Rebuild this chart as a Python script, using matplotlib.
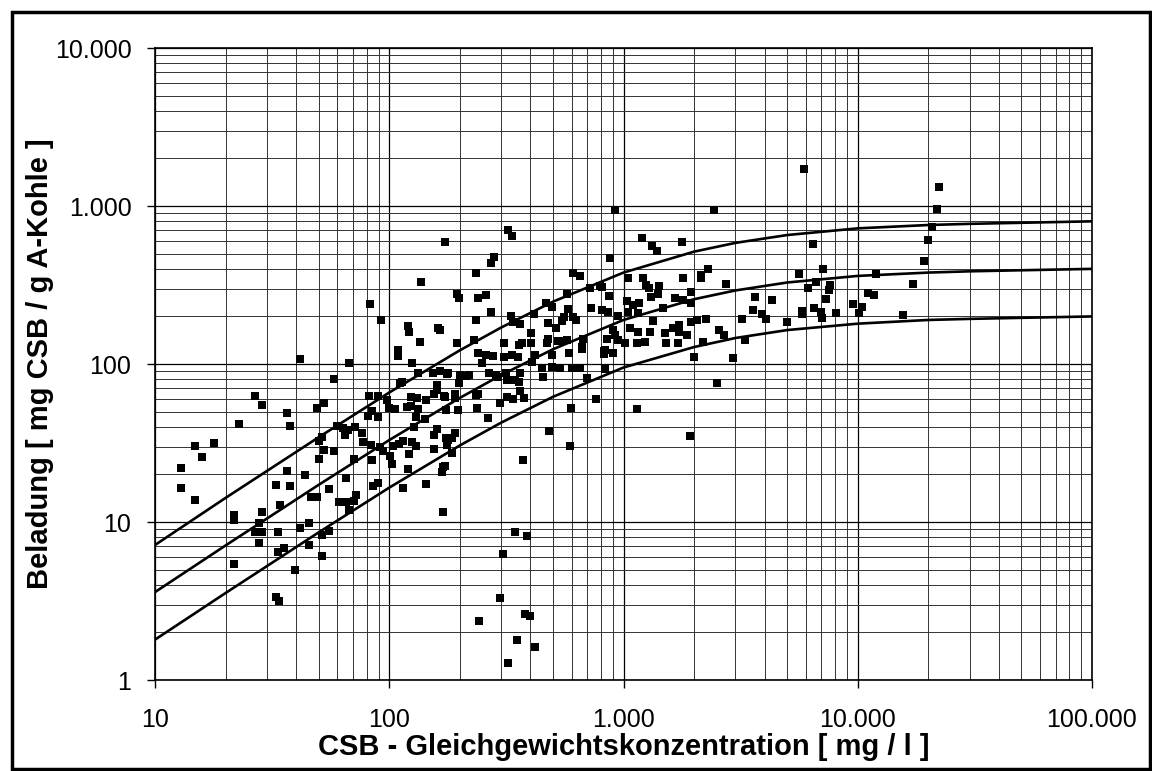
import numpy as np
import matplotlib
matplotlib.use("Agg")
import matplotlib.pyplot as plt
from matplotlib.ticker import FuncFormatter, LogLocator, NullFormatter
from matplotlib.patches import Rectangle

plt.rcParams['font.family'] = ['Liberation Sans', 'DejaVu Sans']
plt.rcParams['font.size'] = 17

# Langmuir-type isotherm curves
curve_c = [10, 20, 30, 50, 100, 200, 300, 500, 1000, 2000, 3000, 5000,
           10000, 20000, 30000, 50000, 100000]
curve_top = [7.15, 14.2, 21.0, 34.4, 66, 122, 170, 248, 379, 514, 584, 655,
             722, 758, 771, 783, 800]
curve_mid = [3.6, 7.1, 10.5, 17.2, 33, 61, 85, 124, 190, 257, 292, 328,
             361, 379, 386, 392, 400]
curve_low = [1.8, 3.55, 5.25, 8.6, 16.5, 30.5, 42.5, 62, 95, 128, 146, 164,
             180, 190, 193, 196, 200]

# measured points: COD equilibrium concentration [mg/l], loading [mg/g]
conc = [26.7, 28.7, 36.7, 37.7, 22.8, 14.8, 17.9, 15.9, 12.9, 12.9, 14.8, 21.8,
        21.8, 21.8, 36.7, 43.8, 32.7, 37.7, 46.5, 34.3, 28.7, 27.8, 26.7, 28.5,
        27.8, 33.6, 33.5, 35.7, 39.6, 32.7, 33.7, 41.7, 45.4, 45.4,
        41.6,
        173, 137, 82.8, 91.9, 120, 122, 162, 165,
        109, 109, 135, 67.5, 125, 58, 133, 154, 165, 177, 113, 111, 160, 160,
        155, 171, 52.5, 49.3, 82.2, 89.6, 97.5, 99.7, 106, 119, 124, 133, 124,
        132, 143, 84, 81.3, 89.6, 130, 142, 127, 160, 155, 175, 59.7, 63.2,
        66.5, 71.5, 76.3, 64.7, 51.5, 50.3, 52.5, 58, 50.2, 77.5, 83.6, 91.3,
        93.7, 104, 110, 114, 125, 130, 122, 101, 84.3, 70.7, 103, 120, 155,
        170, 167.5, 177, 65.2, 55.5, 49.3, 61.3, 65.4, 70.9, 72.1, 85.5, 89.8,
        114, 144, 67.5, 169, 51.5, 55.5,
        51.5, 305, 298, 242, 322, 350, 378, 400, 418,
        321, 335, 280, 272, 235, 607, 652, 194, 199, 240, 260, 273, 234, 331,
        338, 361, 416, 465, 496, 572, 582, 556, 548, 607, 627, 477, 515, 402,
        229, 194, 308, 358, 368, 402, 477, 470, 527, 545, 575,
        240, 260, 277, 250, 310, 333, 356, 419, 494, 587, 408, 179, 200, 212,
        219, 199, 267, 285, 292, 315, 317, 361, 358, 447, 454, 496, 535, 601,
        652, 344, 361, 191, 190, 173, 175, 197, 234, 240, 237, 297, 317, 338,
        376, 265, 597, 483, 593, 371, 191, 185, 179, 185, 173, 344, 389,
        920, 2430, 1195, 1783, 1318, 1384, 875, 2300, 2135, 2135, 2728, 1049,
        1207, 1801, 720, 794, 807, 1247, 1281, 1412, 1305, 1403, 865, 1660,
        1790, 1943, 1943, 1480, 1031, 1101, 1165, 1049, 1156, 944, 725, 807,
        861, 1331, 1067, 1156, 1297, 1504, 1632, 1731, 1731, 1873, 1950, 2050,
        2240, 2563, 2685, 905, 920, 848, 950, 1015, 1138, 1235, 673, 833, 1517,
        1714, 2177,
        662, 662, 825, 825, 899, 2003, 2921, 833, 697, 2498, 762, 1145, 1925,
        5897, 6422, 7129, 5629, 6607, 7603, 7537, 6113, 11930, 17260, 11100,
        11770, 7300, 3656, 4295, 3559, 3888, 4047, 3217, 5006, 5800, 5800,
        6501, 6967, 7057, 8073, 9580, 10400, 10150, 15640, 3307,
        22280, 21720, 20800, 20010, 19240]
load = [63, 55, 49, 40.6, 42, 30.3, 31.5, 25.9, 22, 16.5, 13.7, 11.1,
        10.3, 5.45, 21, 19.9, 17.1, 16.9, 14.3, 12.8, 11.5, 9.9, 8.6, 8.6,
        7.4, 8.6, 6.45, 6.8, 5.0, 3.34, 3.18, 9.2, 9.8, 7.2,
        108,
        589, 332, 240, 189, 175, 160, 168, 164,
        123, 112, 137, 101, 102, 80.7, 88, 88, 90, 87, 77, 75.5, 73.6, 68.5,
        64.5, 63, 56.4, 52.4, 62.7, 62.6, 59, 52.5, 52, 53.5, 54.2, 52, 62,
        61, 59.6, 50.4, 47, 46, 46, 44.9, 39.7, 38.6, 35.5, 34.2, 40.5, 39.2,
        38.1, 40, 36.6, 35.6, 34.7, 32.6, 28.6, 28.2, 25, 31.9, 30.8, 29.7,
        28.2, 30.3, 31.2, 32.6, 32.2, 30.3, 26.9, 26.3, 24.6, 25.1, 23.3, 21.6,
        28.9, 22.2, 20.8, 30.8, 19.1, 16.1, 14.4, 13.3, 13.3, 13.6, 14.8, 16.9,
        17.7, 16.3, 17.4, 11.9, 11.6, 8.3, 8.8,
        6.1, 6.3, 3.32, 2.37, 1.28, 1.79, 2.6, 2.55, 1.62,
        705, 649, 475, 437, 375, 375, 362, 277, 263, 263, 272, 214, 190, 201,
        184, 178, 206, 242, 228, 276, 223, 199, 188, 199, 190, 182, 170, 156,
        142, 135, 135, 132, 135, 136, 145, 136, 140, 139, 142,
        118, 114, 113, 101, 111, 114, 111, 114, 114, 118, 103, 88, 85, 84,
        85, 76, 88, 85, 83, 88, 79, 88, 77, 94, 83, 96, 95, 94,
        95, 79, 67, 65, 61, 62, 51, 51, 63.6, 65, 52.5, 56.9, 62, 59.8,
        61, 45.7, 52.5, 37.9, 30.3, 24.7, 36.4, 33.9, 33, 27.2, 22.6, 8.7, 8.1,
        944, 944, 630, 594, 561, 521, 471, 399, 366, 348, 321, 348,
        352, 348, 301, 312, 306, 316, 301, 312, 267, 276, 270, 261,
        254, 284, 242, 227, 252, 236, 242, 212, 209, 201, 227, 220,
        212, 187, 170, 160, 160, 158, 170, 177, 159, 153, 185, 190,
        193, 164, 153, 164, 153, 143, 142, 135, 135, 138, 145, 123, 135,
        135, 137,
        129, 124.5, 120, 116, 118, 110, 109, 92.5, 81, 76, 59.8, 51.7, 35.2,
        1714, 575, 399, 371, 329, 316, 294, 301, 369, 319, 282,
        273, 258, 267, 254, 220, 207, 194, 194, 185, 216, 206,
        226, 212, 196, 211, 240, 231, 209, 204, 142,
        1319, 957, 733, 609, 447]

x_ticks = [10, 100, 1000, 10000, 100000]
y_ticks = [1, 10, 100, 1000, 10000]


def dotted_thousands(v, pos):
    return f"{int(round(v)):,}".replace(',', '.')


fig = plt.figure(figsize=(11.52, 7.71), dpi=100)
ax = fig.add_axes([155 / 1152, 1 - 680 / 771, (1092 - 155) / 1152, (680 - 48) / 771])

ax.set_xscale('log')
ax.set_yscale('log')
ax.set_xlim(10, 100000)
ax.set_ylim(1, 10000)

ax.set_xticks(x_ticks)
ax.set_yticks(y_ticks)
ax.xaxis.set_major_formatter(FuncFormatter(dotted_thousands))
ax.yaxis.set_major_formatter(FuncFormatter(dotted_thousands))
ax.xaxis.set_minor_locator(LogLocator(base=10, subs=np.arange(2, 10)))
ax.yaxis.set_minor_locator(LogLocator(base=10, subs=np.arange(2, 10)))
ax.xaxis.set_minor_formatter(NullFormatter())
ax.yaxis.set_minor_formatter(NullFormatter())

ax.grid(True, which='major', color='black', linewidth=0.9)
ax.grid(True, which='minor', color='#333333', linewidth=0.7)
ax.set_axisbelow(True)

ax.tick_params(which='major', direction='out', length=6, width=1, labelsize=18)
ax.tick_params(axis='x', which='major', pad=14)
ax.tick_params(axis='y', which='major', pad=11)
ax.tick_params(which='minor', length=0)
for sp in ax.spines.values():
    sp.set_linewidth(1.2)
    sp.set_color('black')

for q in (curve_top, curve_mid, curve_low):
    ax.plot(curve_c, q, color='black', linewidth=1.9, zorder=3)

ax.scatter(conc, load, marker='s', s=38, color='black', linewidths=0, zorder=4)

ax.set_xlabel('CSB - Gleichgewichtskonzentration [ mg / l ]', fontsize=21,
              fontweight='bold', labelpad=1)
ax.set_ylabel('Beladung [ mg CSB / g A-Kohle ]', fontsize=21,
              fontweight='bold')
ax.yaxis.set_label_coords(-0.108, 0.5)

# outer frame round the whole chart
fig.patches.append(Rectangle((12 / 1152, 2 / 771), 1138 / 1152, 757 / 771,
                             transform=fig.transFigure, fill=False,
                             edgecolor='black', linewidth=2.5))

fig.savefig('out.png', dpi=100)
